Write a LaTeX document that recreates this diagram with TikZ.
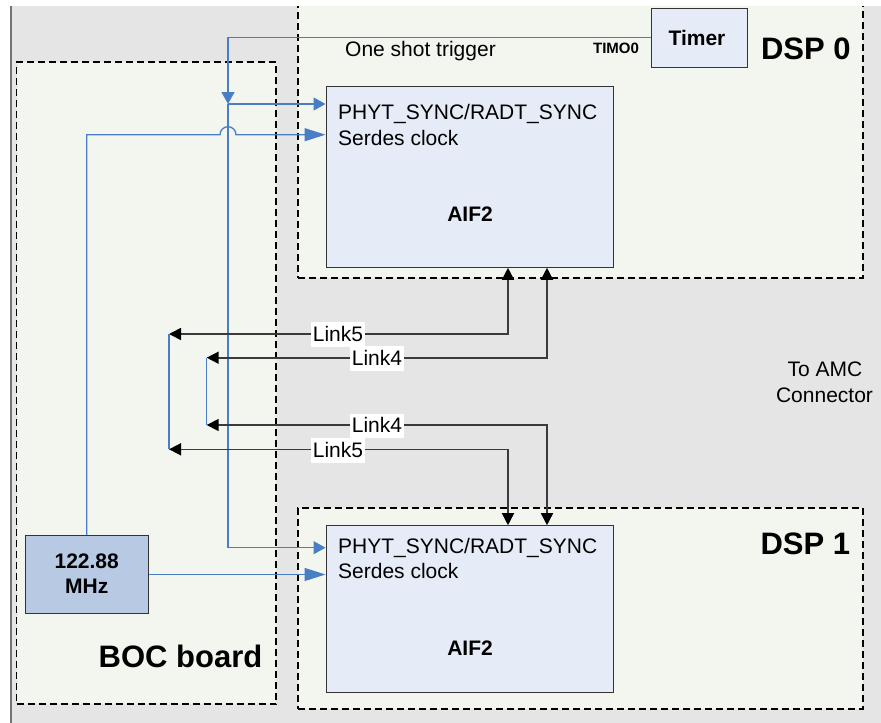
\documentclass[tikz,border=0pt]{standalone}
\usepackage{fontspec}
\setmainfont{Liberation Sans}
\usetikzlibrary{arrows.meta}
\definecolor{bggray}{HTML}{E5E5E5}
\definecolor{boxfill}{HTML}{F3F5EF}
\definecolor{aiffill}{HTML}{E6ECF7}
\definecolor{oscfill}{HTML}{B7C9E3}
\definecolor{sigblue}{HTML}{4A7EC4}
\definecolor{linkgray}{HTML}{3A3A3A}
\newcommand\fsz[1]{\fontsize{#1}{#1}\selectfont}
\begin{document}
\begin{tikzpicture}[x=1pt,y=-1pt,
  dspbox/.style={draw=black, fill=boxfill, line width=1.8pt, dash pattern=on 7pt off 4pt, inner sep=0pt},
  blockbox/.style={draw=black!80, fill=aiffill, line width=1pt, inner sep=0pt},
  oscbox/.style={draw=black!80, fill=oscfill, line width=1pt, inner sep=0pt},
  sig/.style={draw=sigblue, line width=1.3pt},
  smalltip/.style={-{Triangle[length=12pt,width=13pt]}},
  bigtip/.style={-{Triangle[length=21pt,width=13pt]}},
  link/.style={draw=linkgray, line width=1.6pt},
  lk/.tip={Triangle[length=12pt,width=12pt,color=black]},
  linklabel/.style={fill=white, inner xsep=1.5pt, inner ysep=1pt, text height=18pt, text depth=4.5pt, anchor=base, font=\fsz{21}},
  txt/.style={inner sep=0pt, font=\fsz{21}},
  btxt/.style={inner sep=0pt, font=\fsz{21}\bfseries},
  bigtxt/.style={inner sep=0pt, font=\fsz{31}\bfseries}
]
\useasboundingbox (0,0) rectangle (881,723);
% background
\fill[bggray] (10,6) rectangle (881,723);
\draw[black!55, line width=1.6pt] (10.8,6) -- (10.8,723);
% containers
\begin{scope}
\clip (10,6) rectangle (881,723);
\node[dspbox, minimum width=565pt, minimum height=283pt] (dsp0) at (580.5,136.5) {};
\end{scope}
\node[dspbox, minimum width=565pt, minimum height=201pt] (dsp1) at (580.5,608.2) {};
\node[dspbox, minimum width=259.5pt, minimum height=642pt] (boc) at (146.25,383) {};
% blocks
\node[blockbox, minimum width=287.3pt, minimum height=180.6pt] (aif0) at (469.65,177) {};
\node[blockbox, minimum width=287.3pt, minimum height=167pt] (aif1) at (469.65,609.2) {};
\node[blockbox, minimum width=96pt, minimum height=58.7pt] (timer) at (699.3,37.8) {};
\node[oscbox, minimum width=123.3pt, minimum height=77.6pt] (osc) at (86.65,574.5) {};
% coordinates
\coordinate (j) at (228,104);
\coordinate (jd) at (228,547.7);
\coordinate (l5a) at (169,334);
\coordinate (l5b) at (169,449.3);
\coordinate (l4a) at (206.7,357.7);
\coordinate (l4b) at (206.7,425);
% timer trigger
\draw[sig, smalltip] (timer.west) -| (j);
\draw[sig, smalltip] (j) -- (aif0.west |- j);
\draw[sig, smalltip] (j) |- (aif1.west |- jd);
% serdes clock DSP0 with jump
\draw[sig, bigtip] (osc.north) -- (86.65,134.7) -- (220,134.7) arc[start angle=180, end angle=0, radius=8pt] -- (aif0.west |- 0,134.7);
% serdes clock DSP1
\draw[sig, bigtip] (osc.east) -- (aif1.west |- osc.east);
% links
\draw[link, {lk}-{lk}] (aif0.south -| 508,0) |- (l5a);
\draw[link, {lk}-{lk}] (aif0.south -| 547,0) |- (l4a);
\draw[link, {lk}-{lk}] (l4b) -| (aif1.north -| 547,0);
\draw[link, {lk}-{lk}] (l5b) -| (aif1.north -| 508,0);
\draw[sig, line width=1.1pt] (l5a) -- (l5b);
\draw[sig, line width=1.1pt] (l4a) -- (l4b);
% link labels
\node[linklabel] (lab5a) at (338,341) {Link5};
\node[linklabel] (lab4a) at (377,365) {Link4};
\node[linklabel] (lab4b) at (377,432.7) {Link4};
\node[linklabel] (lab5b) at (338,457) {Link5};
% texts
\node[txt, anchor=base west] (ost) at (345,56.7) {One shot trigger};
\node[inner sep=0pt, font=\fsz{15}\bfseries, anchor=base] (timo) at (616,53.3) {TIMO0};
\node[btxt, anchor=base] (timert) at (697,45) {Timer};
\node[bigtxt, anchor=base] (dsp0t) at (805.8,59.3) {DSP 0};
\node[bigtxt, anchor=base] (dsp1t) at (805.3,554) {DSP 1};
\node[bigtxt, anchor=base] (boct) at (180.5,667.7) {BOC board};
\node[btxt, anchor=base] (osct1) at (86.7,568.3) {122.88};
\node[btxt, anchor=base] (osct2) at (86.7,593.3) {MHz};
\node[btxt, anchor=base] (aif0t) at (470,221.7) {AIF2};
\node[btxt, anchor=base] (aif1t) at (470,655.7) {AIF2};
\node[txt, anchor=base west] (p0) at (338,119) {PHYT\_SYNC/RADT\_SYNC};
\node[txt, anchor=base west] (s0) at (338,145.7) {Serdes clock};
\node[txt, anchor=base west] (p1) at (338,553.3) {PHYT\_SYNC/RADT\_SYNC};
\node[txt, anchor=base west] (s1) at (338,578.3) {Serdes clock};
\node[txt, anchor=base] (amc1) at (825,376.7) {To AMC};
\node[txt, anchor=base] (amc2) at (824.5,402.7) {Connector};
\end{tikzpicture}
\end{document}
